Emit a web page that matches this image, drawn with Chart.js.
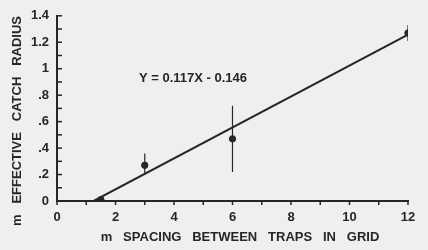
<!DOCTYPE html>
<html>
<head>
<meta charset="utf-8">
<script src="https://cdn.jsdelivr.net/npm/chart.js@4"></script>
<style>
  html, body { margin: 0; padding: 0; background: #efefef; }
  #wrap { width: 428px; height: 250px; }
</style>
</head>
<body>
<div id="wrap"><canvas id="catchChart" width="428" height="250"></canvas></div>
<script>
// trap spacing (m) vs effective catch radius (m)
const spacing = [1.5, 3, 6, 12];
const radius = [0.01, 0.27, 0.47, 1.27];
const errLow = [null, 0.20, 0.22, 1.21];
const errHigh = [null, 0.36, 0.72, 1.33];
// fitted line Y = 0.117X - 0.146
const fitX = [1.25, 12];
const fitY = [0, 1.258];
const xTicks = [0, 2, 4, 6, 8, 10, 12];
const yTicks = [0, 0.2, 0.4, 0.6, 0.8, 1, 1.2, 1.4];
const yLabels = ["0", ".2", ".4", ".6", ".8", "1", "1.2", "1.4"];

const ink = "#262626";
const font = "'Liberation Sans', Arial, sans-serif";

let errData = [];
spacing.forEach(function (x, i) {
	if (errLow[i] === null) return;
	errData.push({ x: x, y: errLow[i] }, { x: x, y: errHigh[i] }, { x: x, y: null });
});

let axisDecor = {
	id: "axisDecor",
	afterDraw: function (chart) {
		let ctx = chart.ctx;
		let xs = chart.scales.x, ys = chart.scales.y;
		ctx.save();
		ctx.strokeStyle = ink;
		ctx.lineWidth = 1.5;
		// minor ticks: y inward, x outward
		for (let v = 0; v <= 14; v++) {
			let py = ys.getPixelForValue(v / 10);
			ctx.beginPath();
			ctx.moveTo(xs.left, py);
			ctx.lineTo(xs.left + 5, py);
			ctx.stroke();
		}
		for (let v = 0; v <= 12; v++) {
			let px = xs.getPixelForValue(v);
			ctx.beginPath();
			ctx.moveTo(px, ys.bottom);
			ctx.lineTo(px, ys.bottom + 4);
			ctx.stroke();
		}
		ctx.fillStyle = ink;
		ctx.font = "bold 13px " + font;
		ctx.textAlign = "center";
		ctx.textBaseline = "middle";
		ctx.fillText("m   SPACING   BETWEEN   TRAPS   IN   GRID", 240, 237);
		ctx.fillText("Y = 0.117X - 0.146", 193, 78);
		ctx.translate(17, 121);
		ctx.rotate(-Math.PI / 2);
		ctx.fillText("m   EFFECTIVE   CATCH   RADIUS", 0, 0);
		ctx.restore();
	}
};

let chart = new Chart("catchChart", {
	type: "scatter",
	data: {
		datasets: [{
			type: "line",
			data: fitX.map(function (x, i) { return { x: x, y: fitY[i] }; }),
			borderColor: ink,
			borderWidth: 2,
			pointRadius: 0
		}, {
			type: "line",
			data: errData,
			borderColor: ink,
			borderWidth: 1.2,
			pointRadius: 0,
			spanGaps: false
		}, {
			data: spacing.map(function (x, i) { return { x: x, y: radius[i] }; }),
			backgroundColor: ink,
			borderColor: ink,
			pointRadius: 3.2
		}]
	},
	options: {
		responsive: false,
		animation: false,
		layout: { padding: { left: 0, top: 15, right: 20, bottom: 0 } },
		plugins: { legend: { display: false }, tooltip: { enabled: false } },
		scales: {
			x: {
				type: "linear", min: 0, max: 12,
				afterFit: function (s) { s.height = 49; },
				afterBuildTicks: function (s) { s.ticks = xTicks.map(function (v) { return { value: v }; }); },
				grid: { display: false, drawTicks: false },
				border: { display: true, color: ink, width: 2 },
				ticks: { color: ink, padding: 9, font: { family: font, size: 13, weight: "bold" } }
			},
			y: {
				type: "linear", min: 0, max: 1.4,
				afterFit: function (s) { s.width = 57; },
				afterBuildTicks: function (s) { s.ticks = yTicks.map(function (v) { return { value: v }; }); },
				grid: { display: false, drawTicks: false },
				border: { display: true, color: ink, width: 2 },
				ticks: {
					color: ink, padding: 8, font: { family: font, size: 13, weight: "bold" },
					callback: function (v) { return yLabels[yTicks.indexOf(v)]; }
				}
			}
		}
	},
	plugins: [axisDecor]
});
</script>
</body>
</html>
